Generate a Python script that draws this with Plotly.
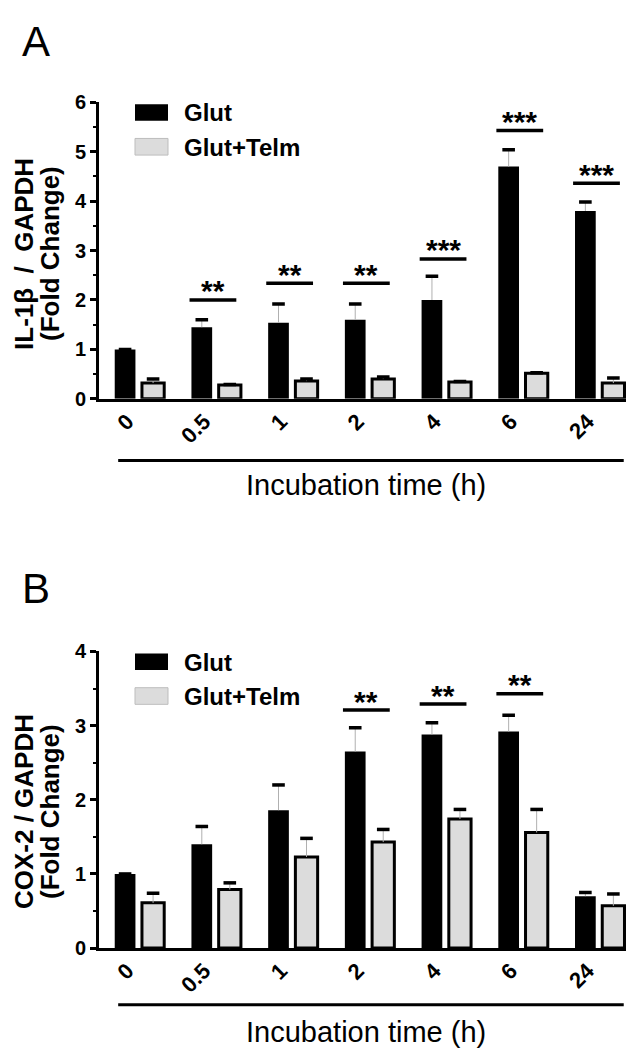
import numpy as np
import plotly.graph_objects as go

# ---------------- data ----------------
categories = ["0", "0.5", "1", "2", "4", "6", "24"]

il1b_glut = [1.00, 1.45, 1.54, 1.60, 2.00, 4.70, 3.80]
il1b_glut_err = [0.00, 0.15, 0.38, 0.32, 0.48, 0.34, 0.18]
il1b_telm = [0.32, 0.28, 0.36, 0.40, 0.34, 0.52, 0.32]
il1b_telm_err = [0.08, 0.01, 0.04, 0.04, 0.01, 0.01, 0.10]

cox2_glut = [1.00, 1.40, 1.86, 2.65, 2.88, 2.92, 0.70]
cox2_glut_err = [0.00, 0.24, 0.34, 0.32, 0.16, 0.22, 0.05]
cox2_telm = [0.61, 0.79, 1.23, 1.43, 1.74, 1.56, 0.57]
cox2_telm_err = [0.13, 0.09, 0.25, 0.17, 0.13, 0.31, 0.16]

sig_a_groups = ["0.5", "1", "2", "4", "6", "24"]
sig_a_labels = ["**", "**", "**", "***", "***", "***"]
sig_a_heights = [2.00, 2.34, 2.34, 2.83, 5.43, 4.36]

sig_b_groups = ["2", "4", "6"]
sig_b_labels = ["**", "**", "**"]
sig_b_heights = [3.21, 3.29, 3.43]

series_names = ["Glut", "Glut+Telm"]
x_title = "Incubation time (h)"

# ---------------- styling ----------------
W, H = 634, 1050
FONT = "Liberation Sans, Arial, sans-serif"
TELM_FILL = "#dcdcdc"
G_OFF, G_W = -0.335, 0.27
T_OFF, T_W = 0.02, 0.29

xpos = np.arange(len(categories))


def py(px):
    return 1 - px / H


def px_x(px):
    return px / W


fig = go.Figure()


def add_panel(xr, yr, glut, glut_err, telm, telm_err):
    fig.add_trace(go.Bar(x=xpos, y=glut, offset=G_OFF, width=G_W,
                         marker=dict(color="black", line=dict(width=0)),
                         xaxis=xr, yaxis=yr, name=series_names[0]))
    fig.add_trace(go.Bar(x=xpos, y=telm, offset=T_OFF, width=T_W,
                         marker=dict(color=TELM_FILL, line=dict(color="black", width=3)),
                         xaxis=xr, yaxis=yr, name=series_names[1]))
    for vals, errs, off, w in [(glut, glut_err, G_OFF, G_W), (telm, telm_err, T_OFF, T_W)]:
        vals = np.array(vals)
        errs = np.array(errs)
        cx = xpos + off + w / 2
        fig.add_trace(go.Scatter(x=cx, y=vals, mode="markers",
                                 marker=dict(size=1, color="rgba(0,0,0,0)"),
                                 error_y=dict(type="data", symmetric=False, array=errs,
                                              arrayminus=np.zeros_like(errs),
                                              color="#b0b0b0", thickness=1, width=0),
                                 xaxis=xr, yaxis=yr, hoverinfo="skip"))
        fig.add_trace(go.Scatter(x=cx, y=vals + errs, mode="markers",
                                 marker=dict(symbol="line-ew", size=9,
                                             line=dict(color="black", width=3.5)),
                                 xaxis=xr, yaxis=yr, hoverinfo="skip"))


add_panel("x", "y", il1b_glut, il1b_glut_err, il1b_telm, il1b_telm_err)
add_panel("x2", "y2", cox2_glut, cox2_glut_err, cox2_telm, cox2_telm_err)

x_dom = [px_x(91), px_x(628)]
x_range = [-0.54, 6.46]

common_x = dict(domain=x_dom, range=x_range, showline=True, linewidth=3, linecolor="black",
                tickmode="array", tickvals=list(xpos), ticktext=categories, tickangle=-45,
                ticklabelshift=-13, ticklabelstandoff=-2,
                tickfont=dict(family=FONT, size=22, color="black", weight="bold"),
                ticks="", showgrid=False, zeroline=False, fixedrange=True)
common_y = dict(showline=True, linewidth=3, linecolor="black", ticks="outside",
                ticklen=6, tickwidth=2.5, tickcolor="black", dtick=1,
                minor=dict(dtick=0.5, ticks="outside", ticklen=3, tickwidth=2, tickcolor="black"),
                tickfont=dict(family=FONT, size=20, color="black", weight="bold"),
                showgrid=False, zeroline=False)

fig.update_layout(
    width=W, height=H, margin=dict(l=0, r=0, t=0, b=0),
    paper_bgcolor="white", plot_bgcolor="white", showlegend=False,
    barmode="overlay",
    xaxis=dict(common_x, anchor="y"),
    yaxis=dict(common_y, domain=[py(388), py(85)], range=[0, 6], anchor="x"),
    xaxis2=dict(common_x, anchor="y2"),
    yaxis2=dict(common_y, domain=[py(949), py(646)], range=[0, 4], anchor="x2"),
)

annotations = []
shapes = []

# panel letters
for letter, top in [("A", -3), ("B", 556)]:
    annotations.append(dict(text=letter, xref="paper", yref="paper", x=px_x(12), y=py(top),
                            xanchor="left", yanchor="top", showarrow=False,
                            font=dict(family=FONT, size=42, color="black")))

# y titles
for l1, l2, yc in [("IL-1\u03b2  /  GAPDH", "(Fold Change)", 240),
                   ("COX-2 / GAPDH", "(Fold Change)", 810)]:
    for txt, xc in [(l1, 16), (l2, 42)]:
        annotations.append(dict(text=txt, xref="paper", yref="paper", x=px_x(xc), y=py(yc),
                                xanchor="center", yanchor="middle", textangle=-90, showarrow=False,
                                font=dict(family=FONT, size=26, color="black", weight="bold")))

# x titles and lines below tick labels
for xr, yr, ty, ly in [("x", "y", 476, -0.208), ("x2", "y2", 1035, -0.191)]:
    annotations.append(dict(text=x_title, xref="paper", yref="paper", x=px_x(358), y=py(ty),
                            xanchor="center", yanchor="middle", showarrow=False,
                            font=dict(family=FONT, size=29, color="black")))
    shapes.append(dict(type="line", xref=xr, yref=yr + " domain", x0=-0.29, x1=6.30, y0=ly, y1=ly,
                       line=dict(color="black", width=3)))

# significance
for xr, yr, groups, labels, heights in [("x", "y", sig_a_groups, sig_a_labels, sig_a_heights),
                                         ("x2", "y2", sig_b_groups, sig_b_labels, sig_b_heights)]:
    for g, lab, h in zip(groups, labels, heights):
        i = categories.index(g)
        shapes.append(dict(type="line", xref=xr, yref=yr, x0=i - 0.36, x1=i + 0.25, y0=h, y1=h,
                           line=dict(color="black", width=3.5)))
        annotations.append(dict(text=lab, xref=xr, yref=yr, x=i - 0.055, y=h, xanchor="center",
                                yanchor="middle", yshift=9, showarrow=False,
                                font=dict(family=FONT, size=30, color="black", weight="bold")))

# legends
for top in [87, 648]:
    shapes.append(dict(type="rect", xref="paper", yref="paper", x0=px_x(127), x1=px_x(160),
                       y0=py(top + 17), y1=py(top), fillcolor="black", line=dict(width=0)))
    shapes.append(dict(type="rect", xref="paper", yref="paper", x0=px_x(127), x1=px_x(160),
                       y0=py(top + 52), y1=py(top + 35), fillcolor=TELM_FILL,
                       line=dict(color="#bdbdbd", width=1)))
    for txt, yc in [(series_names[0], top + 9), (series_names[1], top + 44)]:
        annotations.append(dict(text=txt, xref="paper", yref="paper", x=px_x(174), y=py(yc),
                                xanchor="left", yanchor="middle", showarrow=False,
                                font=dict(family=FONT, size=24, color="black", weight="bold")))

fig.update_layout(annotations=annotations, shapes=shapes)
fig.write_html("out.html")
